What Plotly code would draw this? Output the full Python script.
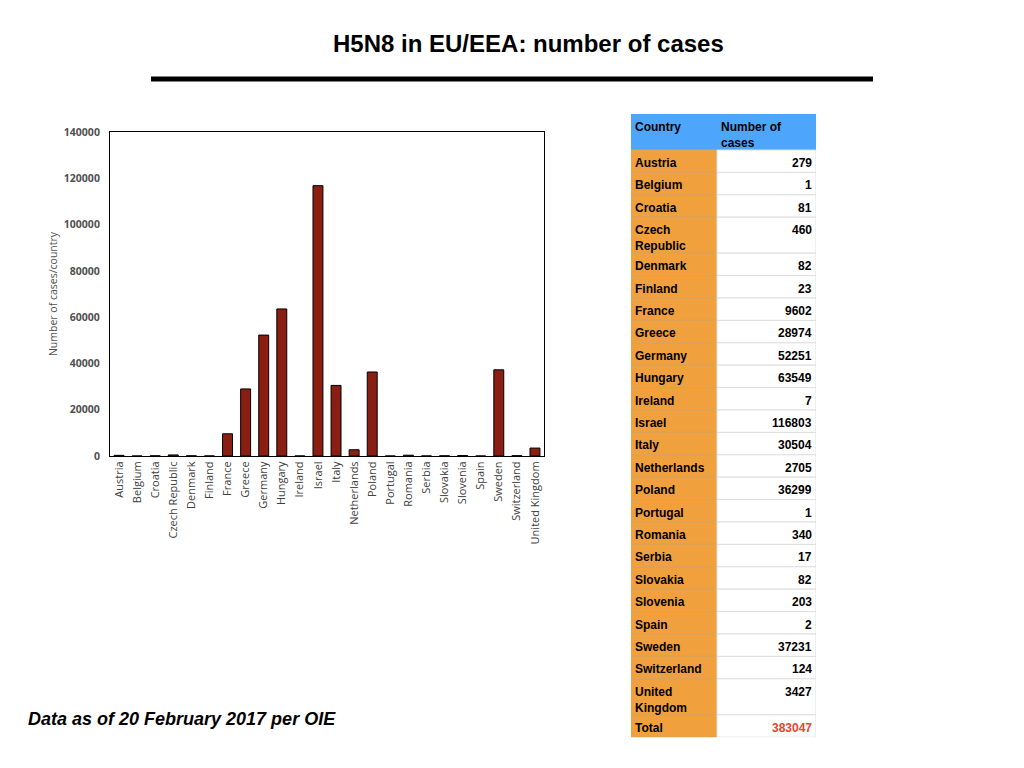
import plotly.graph_objects as go

# Dados: casos de H5N8 por país (OIE, 20/02/2017)
countries = ['Austria', 'Belgium', 'Croatia', 'Czech Republic', 'Denmark', 'Finland',
             'France', 'Greece', 'Germany', 'Hungary', 'Ireland', 'Israel', 'Italy',
             'Netherlands', 'Poland', 'Portugal', 'Romania', 'Serbia', 'Slovakia',
             'Slovenia', 'Spain', 'Sweden', 'Switzerland', 'United Kingdom']
cases = [279, 1, 81, 460, 82, 23, 9602, 28974, 52251, 63549, 7, 116803, 30504,
         2705, 36299, 1, 340, 17, 82, 203, 2, 37231, 124, 3427]
total_label = 'Total'
total_value = 383047
header_labels = ['Country', 'Number of<br>cases']

y_ticks = [0, 20000, 40000, 60000, 80000, 100000, 120000, 140000]

# Cores
BAR_COLOR = '#8B1E13'
ORANGE = '#F0A03C'
BLUE = '#4DA6FC'
RED = '#E2462C'
GRAY_TXT = '#505050'
FONT = 'Liberation Sans'

# A página tem margem de 8px no body: a figura ocupa 1008x752
W, H = 1008, 752


def px(x):
    return (x - 8) / W


def py(y):
    return 1 - (y - 8) / H


fig = go.Figure()

fig.add_trace(go.Bar(
    x=countries,
    y=cases,
    marker=dict(color=BAR_COLOR, line=dict(color='black', width=1)),
    width=0.55,
    showlegend=False,
    hoverinfo='x+y',
    xaxis='x', yaxis='y'
))

# ---- Tabela desenhada num segundo par de eixos (unidades em pixels) ----
names = [c.replace(' ', '<br>') if c in ('Czech Republic', 'United Kingdom') else c
         for c in countries] + [total_label]
values = [str(v) for v in cases] + [str(total_value)]

row_labels = [header_labels[0]] + names
row_values = [header_labels[1]] + values
LINE1, LINE_EXTRA = 22.4, 13.6
heights = [LINE1 + LINE_EXTRA * max(a.count('<br>'), b.count('<br>'))
           for a, b in zip(row_labels, row_values)]
tops = []
acc = 0
for h in heights:
    tops.append(acc)
    acc += h
centers = [t + h / 2 for t, h in zip(tops, heights)]
table_h = acc

COL1, COL2 = 86, 99

fill1 = [BLUE] + [ORANGE] * len(names)
fill2 = [BLUE] + ['white'] * len(names)
line1 = [BLUE] + ['#d9a25a'] * len(names)
line2 = [BLUE] + ['#dedede'] * len(names)

fig.add_trace(go.Bar(
    y=centers, x=[COL1] * len(centers), base=0, width=heights,
    orientation='h', marker=dict(color=fill1, line=dict(color=line1, width=1)),
    showlegend=False, hoverinfo='skip', xaxis='x2', yaxis='y2'
))
fig.add_trace(go.Bar(
    y=centers, x=[COL2] * len(centers), base=COL1, width=heights,
    orientation='h', marker=dict(color=fill2, line=dict(color=line2, width=1)),
    showlegend=False, hoverinfo='skip', xaxis='x2', yaxis='y2'
))

annotations = []
for i, (lab, val, top) in enumerate(zip(row_labels, row_values, tops)):
    val_color = RED if lab == total_label else 'black'
    annotations.append(dict(
        text='<b>%s</b>' % lab, x=2, y=top + 4, xref='x2', yref='y2',
        xanchor='left', yanchor='top', align='left', showarrow=False,
        font=dict(family=FONT, size=12, color='black')))
    annotations.append(dict(
        text='<b>%s</b>' % val,
        x=(COL1 + 2) if i == 0 else (COL1 + COL2 - 2), y=top + 4,
        xref='x2', yref='y2',
        xanchor='left' if i == 0 else 'right', yanchor='top',
        align='left' if i == 0 else 'right', showarrow=False,
        font=dict(family=FONT, size=12, color=val_color)))

annotations += [
    dict(text='<b>H5N8 in EU/EEA: number of cases</b>',
         x=px(528), y=py(43), xref='paper', yref='paper',
         showarrow=False, xanchor='center', yanchor='middle',
         font=dict(family=FONT, size=24, color='black')),
    dict(text='<b><i>Data as of 20 February 2017 per OIE</i></b>',
         x=px(26), y=py(719), xref='paper', yref='paper',
         showarrow=False, xanchor='left', yanchor='middle',
         font=dict(family=FONT, size=18, color='black'))
]

fig.update_layout(
    width=W,
    height=H,
    margin=dict(l=0, r=0, t=0, b=0, pad=0),
    paper_bgcolor='white',
    plot_bgcolor='white',
    barmode='overlay',
    xaxis=dict(
        domain=[px(110), px(544)],
        tickangle=-90,
        tickfont=dict(family='Open Sans', size=11, color='#404040'),
        showline=True, linecolor='black', linewidth=1, mirror=True,
        ticks='', showgrid=False, fixedrange=True, automargin=False
    ),
    yaxis=dict(
        domain=[py(456), py(132)],
        range=[0, 140000],
        tickvals=y_ticks,
        ticktext=[str(t) for t in y_ticks],
        tickfont=dict(family='Open Sans', size=10.5, color=GRAY_TXT, weight='bold'),
        ticklabelstandoff=7,
        title=dict(text='Number of cases/country',
                   font=dict(family='Open Sans', size=10.5, color=GRAY_TXT),
                   standoff=4),
        showline=True, linecolor='black', linewidth=1, mirror=True,
        ticks='', showgrid=False, zeroline=False, fixedrange=True,
        automargin=False
    ),
    xaxis2=dict(
        domain=[px(631), px(816)], range=[0, COL1 + COL2],
        visible=False, fixedrange=True, automargin=False
    ),
    yaxis2=dict(
        domain=[py(114 + table_h), py(114)], range=[table_h, 0],
        visible=False, fixedrange=True, automargin=False
    ),
    shapes=[dict(type='line', xref='paper', yref='paper',
                 x0=px(151), x1=px(873), y0=py(79), y1=py(79),
                 line=dict(color='black', width=5))],
    annotations=annotations
)

fig.write_html("out.html")
